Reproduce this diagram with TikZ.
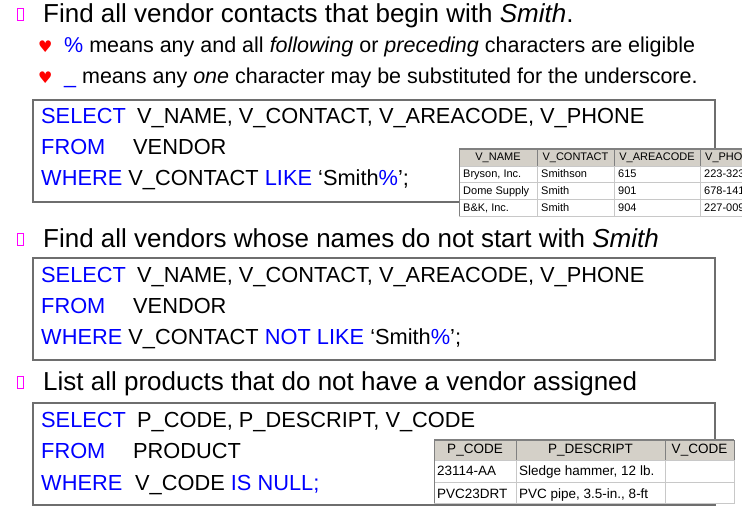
\documentclass[tikz,border=0pt]{standalone}
\usepackage{fontspec}
\setmainfont{Liberation Sans}
\newfontfamily\symfont{DejaVu Sans}
\definecolor{sqlblue}{RGB}{0,0,255}
\definecolor{boxgray}{RGB}{110,110,110}
\definecolor{hdrgray}{RGB}{212,208,200}
\definecolor{gridgray}{RGB}{200,200,200}
\definecolor{edgegray}{RGB}{128,128,128}
\definecolor{bulletpink}{RGB}{255,0,255}
\definecolor{heartred}{RGB}{255,0,0}
\newcommand{\kw}[1]{\textcolor{sqlblue}{#1}}
\tikzset{
  txt/.style={anchor=base west, inner sep=0pt},
  head/.style={txt, font=\fontsize{26}{30}\selectfont},
  sub/.style={txt, font=\fontsize{21.5}{25}\selectfont},
  heart/.style={txt, text=heartred, font=\symfont\fontsize{16}{18}\selectfont},
  sql/.style={txt, font=\fontsize{21.8}{25}\selectfont},
  sqlbox/.style={draw=boxgray, line width=1.2pt},
  pinkbox/.style={draw=bulletpink, line width=1pt},
  hdr/.style={fill=hdrgray, draw=edgegray, line width=0.6pt},
  cellbox/.style={fill=white, draw=gridgray, line width=0.6pt},
  tabA/.style={inner sep=0pt, font=\fontsize{11}{13}\selectfont},
  tabB/.style={inner sep=0pt, font=\fontsize{13.5}{16}\selectfont},
}
\begin{document}
\begin{tikzpicture}[x=1pt,y=-1pt]
  \useasboundingbox (0,0) rectangle (742,510);
  \clip (0,0) rectangle (742,510);
  % first question
  \draw[pinkbox] (17,9) rectangle (23,21);
  \node[head] (find1) at (43,23) {Find all vendor contacts that begin with \textit{Smith}.};
  \node[heart] (heart1) at (38,53) {♥};
  \node[sub] (pct) at (64,53) {\kw{\%} means any and all \textit{following} or \textit{preceding} characters are eligible};
  \node[heart] (heart2) at (38,84) {♥};
  \node[sub] (usc) at (64,84) {\kw{\_} means any \textit{one} character may be substituted for the underscore.};
  \draw[sqlbox] (33,100) rectangle (715,202);
  \node[sql] (sel1) at (41,124) {\kw{SELECT}};
  \node[sql] (cols1) at (137,124) {V\_NAME, V\_CONTACT, V\_AREACODE, V\_PHONE};
  \node[sql] (from1) at (41,155) {\kw{FROM}};
  \node[sql] (tbl1) at (133,155) {VENDOR};
  \node[sql] (where1) at (41,186) {\kw{WHERE} V\_CONTACT \kw{LIKE} ‘Smith\kw{\%}’;};
  % vendor table
  \draw[hdr] (459,149) rectangle (537,166);
  \draw[hdr] (537,149) rectangle (614,166);
  \draw[hdr] (614,149) rectangle (700,166);
  \draw[hdr] (700,149) rectangle (770,166);
  \node[tabA] (hname) at (498,157.5) {V\_NAME};
  \node[tabA] (hcontact) at (575.5,157.5) {V\_CONTACT};
  \node[tabA] (harea) at (657,157.5) {V\_AREACODE};
  \node[tabA, anchor=west] (hphone) at (705,157.5) {V\_PHONE};
  \draw[cellbox] (459,166) rectangle (770,216);
  \draw[gridgray, line width=0.6pt] (459,182) -- (770,182) (459,199) -- (770,199)
    (537,166) -- (537,216) (614,166) -- (614,216) (700,166) -- (700,216);
  \draw[edgegray, line width=1pt] (459,216) -- (459,149) -- (770,149);
  \node[tabA, anchor=base west] (r1a) at (463,178) {Bryson, Inc.};
  \node[tabA, anchor=base west] (r1b) at (541,178) {Smithson};
  \node[tabA, anchor=base west] (r1c) at (618,178) {615};
  \node[tabA, anchor=base west] (r1d) at (704,178) {223-3234};
  \node[tabA, anchor=base west] (r2a) at (463,195) {Dome Supply};
  \node[tabA, anchor=base west] (r2b) at (541,195) {Smith};
  \node[tabA, anchor=base west] (r2c) at (618,195) {901};
  \node[tabA, anchor=base west] (r2d) at (704,195) {678-1419};
  \node[tabA, anchor=base west] (r3a) at (463,212) {B\&K, Inc.};
  \node[tabA, anchor=base west] (r3b) at (541,212) {Smith};
  \node[tabA, anchor=base west] (r3c) at (618,212) {904};
  \node[tabA, anchor=base west] (r3d) at (704,212) {227-0093};
  % second question
  \draw[pinkbox] (17,234) rectangle (23,246);
  \node[head] (find2) at (43,248) {Find all vendors whose names do not start with \textit{Smith}};
  \draw[sqlbox] (33,258) rectangle (715,360);
  \node[sql] (sel2) at (41,283) {\kw{SELECT}};
  \node[sql] (cols2) at (137,283) {V\_NAME, V\_CONTACT, V\_AREACODE, V\_PHONE};
  \node[sql] (from2) at (41,314) {\kw{FROM}};
  \node[sql] (tbl2) at (133,314) {VENDOR};
  \node[sql] (where2) at (41,345) {\kw{WHERE} V\_CONTACT \kw{NOT LIKE} ‘Smith\kw{\%}’;};
  % third question
  \draw[pinkbox] (17,377) rectangle (23,389);
  \node[head] (list3) at (43,391) {List all products that do not have a vendor assigned};
  \draw[sqlbox] (33,403) rectangle (715,505);
  \node[sql] (sel3) at (41,428) {\kw{SELECT}};
  \node[sql] (cols3) at (137,428) {P\_CODE, P\_DESCRIPT, V\_CODE};
  \node[sql] (from3) at (41,459) {\kw{FROM}};
  \node[sql] (tbl3) at (133,459) {PRODUCT};
  \node[sql] (where3) at (41,490) {\kw{WHERE}};
  \node[sql] (cond3) at (135,490) {V\_CODE \kw{IS NULL;}};
  % product table
  \draw[hdr] (434,440) rectangle (516,460);
  \draw[hdr] (516,440) rectangle (665,460);
  \draw[hdr] (665,440) rectangle (734,460);
  \node[tabB] (hcode) at (475,450) {P\_CODE};
  \node[tabB] (hdescr) at (590.5,450) {P\_DESCRIPT};
  \node[tabB] (hvcode) at (699.5,450) {V\_CODE};
  \draw[cellbox] (434,460) rectangle (734,503);
  \draw[gridgray, line width=0.6pt] (434,482) -- (734,482)
    (516,460) -- (516,503) (665,460) -- (665,503);
  \draw[edgegray, line width=1pt] (434,503) -- (434,440) -- (734,440);
  \node[tabB, anchor=base west] (p1a) at (437,476) {23114-AA};
  \node[tabB, anchor=base west] (p1b) at (519,476) {Sledge hammer, 12 lb.};
  \node[tabB, anchor=base west] (p2a) at (437,498) {PVC23DRT};
  \node[tabB, anchor=base west] (p2b) at (519,498) {PVC pipe, 3.5-in., 8-ft};
\end{tikzpicture}
\end{document}
